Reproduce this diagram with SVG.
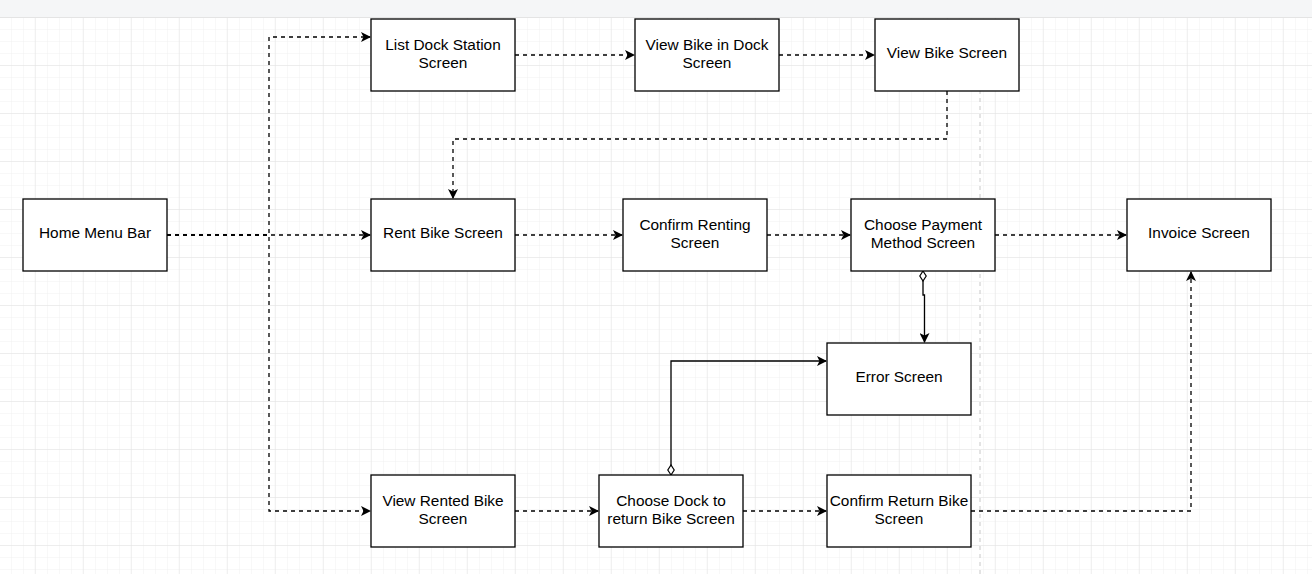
<svg xmlns="http://www.w3.org/2000/svg" width="1312" height="574" viewBox="0 0 1312 574">
<defs>
<pattern id="minor" width="12" height="12" patternUnits="userSpaceOnUse" x="0" y="18">
<path d="M12 0V12M0 12H12" fill="none" stroke="#f0f0f0" stroke-width="1"/>
</pattern>
<pattern id="major" width="48" height="48" patternUnits="userSpaceOnUse" x="-12.3" y="18">
<path d="M48 0V48M0 48H48" fill="none" stroke="#e2e2e2" stroke-width="1"/>
</pattern>
<marker id="arr" viewBox="0 0 10 10" refX="9" refY="5" markerWidth="10" markerHeight="10" markerUnits="userSpaceOnUse" orient="auto">
<path d="M0,0 L10,5 L0,10 L2.5,5 Z" fill="#000"/>
</marker>
<marker id="dia" viewBox="0 0 12 8" refX="1" refY="4" markerWidth="12" markerHeight="8" markerUnits="userSpaceOnUse" orient="auto">
<path d="M1,4 L6,0.8 L11,4 L6,7.2 Z" fill="#fff" stroke="#000" stroke-width="1.2"/>
</marker>
</defs>
<style>
.box rect{fill:#fff;stroke:#000;stroke-width:1.3}
.box text{font-family:"Liberation Sans",Arial,sans-serif;font-size:15.4px;fill:#000;text-anchor:middle}
.dash{fill:none;stroke:#000;stroke-width:1.3;stroke-dasharray:4,4}
.solid{fill:none;stroke:#000;stroke-width:1.3}
</style>
<rect width="1312" height="574" fill="#fff"/>
<rect x="0" y="18" width="1312" height="556" fill="url(#minor)"/>
<rect x="0" y="18" width="1312" height="556" fill="url(#major)"/>
<rect x="0" y="0" width="1312" height="17" fill="#f5f6f7"/>
<line x1="0" y1="17.5" x2="1312" y2="17.5" stroke="#e4e4e4"/>
<line x1="980" y1="90" x2="980" y2="574" stroke="#c8c8c8" stroke-dasharray="4,4"/>

<g id="connectors">
<path class="dash" d="M167,235 H269 V37 H370" marker-end="url(#arr)"/>
<path class="dash" d="M167,235 H370" marker-end="url(#arr)"/>
<path class="dash" d="M167,235 H269 V511 H370" marker-end="url(#arr)"/>
<path class="dash" d="M515,55 H634" marker-end="url(#arr)"/>
<path class="dash" d="M779,55 H874" marker-end="url(#arr)"/>
<path class="dash" d="M947,91 V139 H453 V198" marker-end="url(#arr)"/>
<path class="dash" d="M515,235 H622" marker-end="url(#arr)"/>
<path class="dash" d="M767,235 H850" marker-end="url(#arr)"/>
<path class="dash" d="M995,235 H1126" marker-end="url(#arr)"/>
<path class="dash" d="M515,511 H598" marker-end="url(#arr)"/>
<path class="dash" d="M743,511 H826" marker-end="url(#arr)"/>
<path class="dash" d="M971,511 H1191 V272" marker-end="url(#arr)"/>
<path class="solid" d="M923,271 V295 H924.5 V342" marker-start="url(#dia)" marker-end="url(#arr)"/>
<path class="solid" d="M671,475 V361 H826" marker-start="url(#dia)" marker-end="url(#arr)"/>
</g>

<g id="home" class="box"><rect x="23" y="199" width="144" height="72"/><text x="95" y="237.5">Home Menu Bar</text></g>
<g id="listdock" class="box"><rect x="371" y="19" width="144" height="72"/><text x="443" y="50">List Dock Station</text><text x="443" y="68">Screen</text></g>
<g id="viewbikedock" class="box"><rect x="635" y="19" width="144" height="72"/><text x="707" y="50">View Bike in Dock</text><text x="707" y="68">Screen</text></g>
<g id="viewbike" class="box"><rect x="875" y="19" width="144" height="72"/><text x="947" y="57.5">View Bike Screen</text></g>
<g id="rentbike" class="box"><rect x="371" y="199" width="144" height="72"/><text x="443" y="237.5">Rent Bike Screen</text></g>
<g id="confirmrent" class="box"><rect x="623" y="199" width="144" height="72"/><text x="695" y="230">Confirm Renting</text><text x="695" y="248">Screen</text></g>
<g id="payment" class="box"><rect x="851" y="199" width="144" height="72"/><text x="923" y="230">Choose Payment</text><text x="923" y="248">Method Screen</text></g>
<g id="invoice" class="box"><rect x="1127" y="199" width="144" height="72"/><text x="1199" y="237.5">Invoice Screen</text></g>
<g id="error" class="box"><rect x="827" y="343" width="144" height="72"/><text x="899" y="381.5">Error Screen</text></g>
<g id="viewrented" class="box"><rect x="371" y="475" width="144" height="72"/><text x="443" y="506">View Rented Bike</text><text x="443" y="524">Screen</text></g>
<g id="choosedock" class="box"><rect x="599" y="475" width="144" height="72"/><text x="671" y="506">Choose Dock to</text><text x="671" y="524">return Bike Screen</text></g>
<g id="confirmreturn" class="box"><rect x="827" y="475" width="144" height="72"/><text x="899" y="506">Confirm Return Bike</text><text x="899" y="524">Screen</text></g>
</svg>
